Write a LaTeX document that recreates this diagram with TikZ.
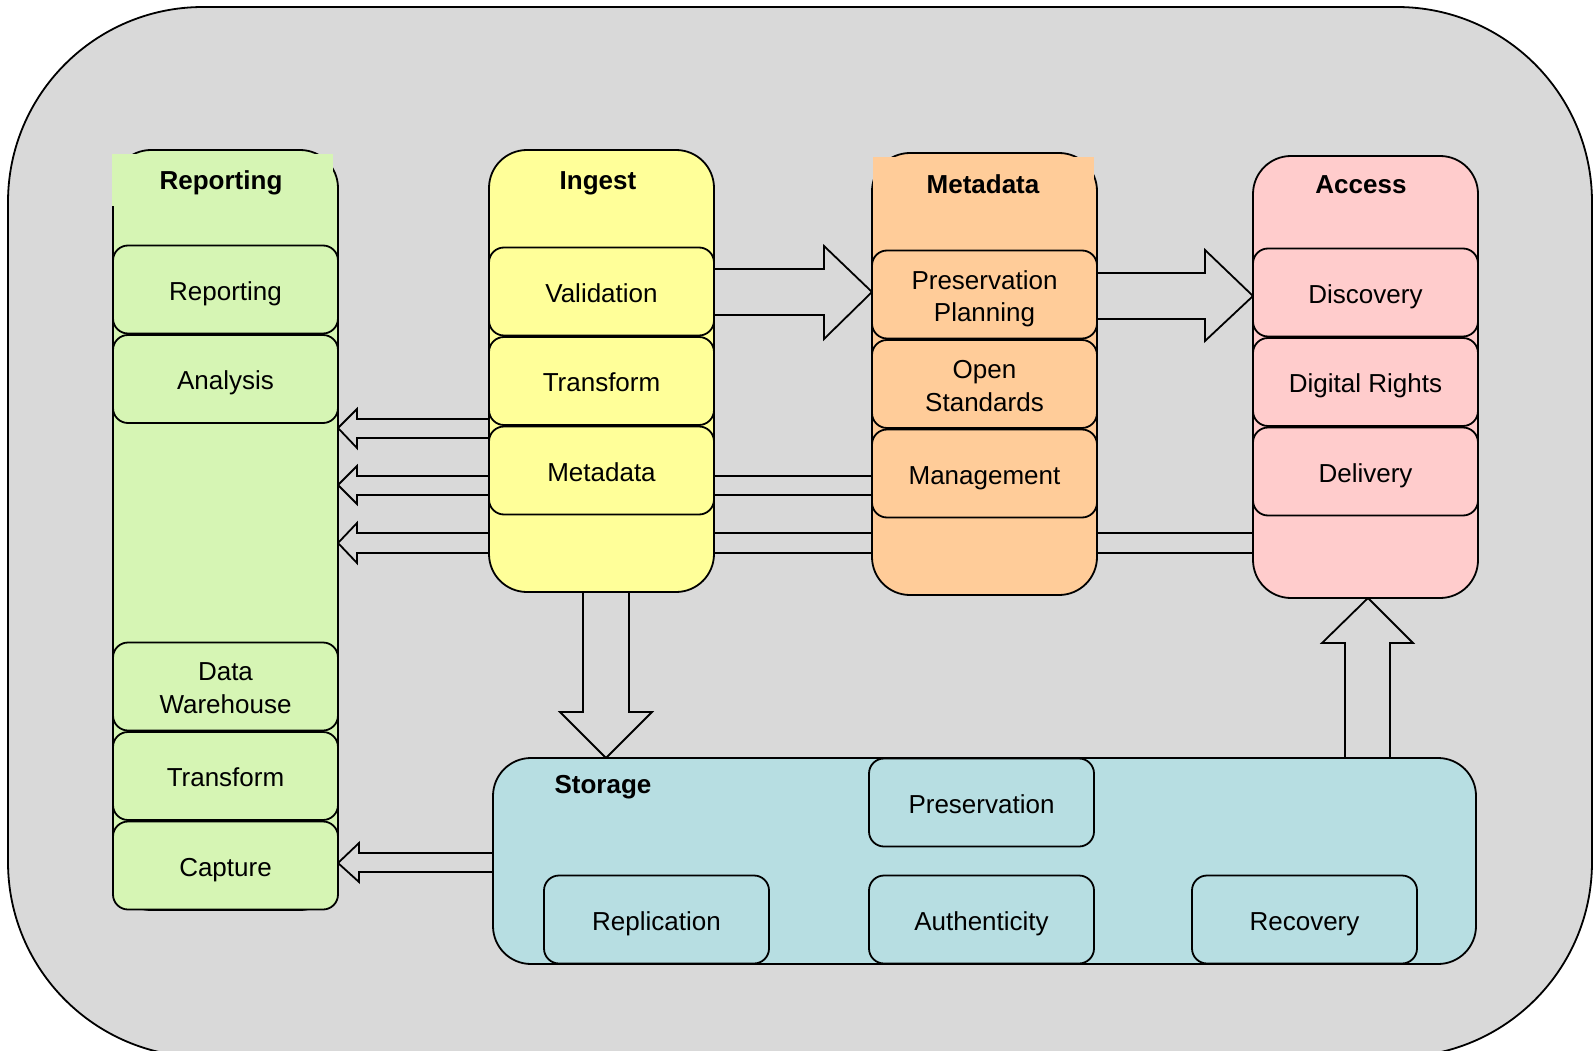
\documentclass[tikz,border=0pt]{standalone}
\usepackage{fontspec}
\setmainfont{Liberation Sans}
\pgfdeclarelayer{bottom}
\pgfdeclarelayer{arrows}
\pgfsetlayers{bottom,arrows,main}
\definecolor{bggray}{RGB}{217,217,217}
\definecolor{repgreen}{RGB}{214,245,180}
\definecolor{ingyellow}{RGB}{255,255,153}
\definecolor{metaorange}{RGB}{255,204,153}
\definecolor{accpink}{RGB}{255,204,204}
\definecolor{storblue}{RGB}{183,222,226}
\begin{document}
\begin{tikzpicture}[x=1pt,y=-1pt,
  every node/.style={font=\fontsize{26}{32.5}\selectfont, inner sep=0pt, outer sep=0pt},
  col/.style={draw, line width=1.8pt, rounded corners=38pt, minimum width=225pt},
  sub/.style={draw, line width=1.8pt, rounded corners=15pt, minimum width=225pt, minimum height=88pt, align=center},
  cc/.style={text height=21.6pt, text depth=0pt},
  hdr/.style={font=\bfseries\fontsize{26}{31.5}\selectfont, text height=18.6pt, text depth=0pt},
  barrow/.style={draw, line width=1.8pt, fill=bggray, line join=miter}
]
\useasboundingbox (0,0) rectangle (1593,1051);

% ---------- Reporting column ----------
\node[col, fill=repgreen, minimum height=760pt] (repcol) at (225.5,530) {};
\fill[repgreen] (112,154) rectangle (333,206);
\node[hdr] (rephdr) at (221,180) {Reporting};
\node[sub, cc, fill=repgreen] (rep1) at (225.5,289.5) {Reporting};
\node[sub, cc, fill=repgreen] (rep2) at (225.5,379) {Analysis};
\node[sub, fill=repgreen] (rep3) at (225.5,686.5) {};
\node[align=center] (rep3t) at (225.5,688) {Data\\Warehouse};
\node[sub, cc, fill=repgreen] (rep4) at (225.5,776) {Transform};
\node[sub, cc, fill=repgreen] (rep5) at (225.5,865.5) {Capture};

% ---------- Ingest column ----------
\node[col, fill=ingyellow, minimum height=442pt] (ingcol) at (601.5,371) {};
\node[hdr] (inghdr) at (598,180) {Ingest};
\node[sub, cc, fill=ingyellow] (ing1) at (601.5,291.5) {Validation};
\node[sub, cc, fill=ingyellow] (ing2) at (601.5,381) {Transform};
\node[sub, cc, fill=ingyellow] (ing3) at (601.5,470.5) {Metadata};

% ---------- Metadata column ----------
\node[col, fill=metaorange, minimum height=442pt] (metcol) at (984.5,374) {};
\fill[metaorange] (873,157) rectangle (1094,208);
\node[hdr] (methdr) at (983,184) {Metadata};
\node[sub, fill=metaorange] (met1) at (984.5,294.5) {};
\node[align=center] (met1t) at (984.5,299) {Preservation\\Planning};
\node[sub, fill=metaorange] (met2) at (984.5,384) {};
\node[align=center] (met2t) at (984.5,386) {Open\\Standards};
\node[sub, cc, fill=metaorange] (met3) at (984.5,473.5) {Management};

% ---------- Access column ----------
\node[col, fill=accpink, minimum height=442pt] (acccol) at (1365.5,377) {};
\node[hdr] (acchdr) at (1361,184) {Access};
\node[sub, cc, fill=accpink] (acc1) at (1365.5,292.5) {Discovery};
\node[sub, cc, fill=accpink] (acc2) at (1365.5,382) {Digital Rights};
\node[sub, cc, fill=accpink] (acc3) at (1365.5,471.5) {Delivery};

% ---------- Storage ----------
\node[col, fill=storblue, minimum width=983pt, minimum height=206pt] (stor) at (984.5,861) {};
\node[hdr] (storhdr) at (603,784) {Storage};
\node[sub, cc, fill=storblue] (st1) at (981.5,802.5) {Preservation};
\node[sub, cc, fill=storblue] (st2) at (656.5,919.5) {Replication};
\node[sub, cc, fill=storblue] (st3) at (981.5,919.5) {Authenticity};
\node[sub, cc, fill=storblue] (st4) at (1304.5,919.5) {Recovery};

% ---------- background frame ----------
\begin{pgfonlayer}{bottom}
\begin{scope}
\clip (0,0) rectangle (1593,1051);
\draw[line width=1.8pt, fill=bggray, rounded corners=195pt] (8,7) rectangle (1592,1057);
\end{scope}
\end{pgfonlayer}

% ---------- block arrows ----------
\begin{pgfonlayer}{arrows}
% Ingest -> Metadata
\draw[barrow] (ingcol.east |- 0,269) -- (824,269) -- (824,246) -- (metcol.west |- 0,292)
  -- (824,339) -- (824,315) -- (ingcol.east |- 0,315);
% Metadata -> Access
\draw[barrow] (metcol.east |- 0,273) -- (1205,273) -- (1205,250) -- (acccol.west |- 0,296)
  -- (1205,341) -- (1205,319) -- (metcol.east |- 0,319);
% Ingest -> Reporting
\draw[barrow] (ingcol.west |- 0,419) -- (357,419) -- (357,409) -- (repcol.east |- 0,428)
  -- (357,448) -- (357,438) -- (ingcol.west |- 0,438);
% Metadata -> Reporting
\draw[barrow] (metcol.west |- 0,476) -- (357,476) -- (357,466) -- (repcol.east |- 0,485)
  -- (357,504) -- (357,495) -- (metcol.west |- 0,495);
% Access -> Reporting
\draw[barrow] (acccol.west |- 0,533) -- (357,533) -- (357,523) -- (repcol.east |- 0,543)
  -- (357,563) -- (357,553) -- (acccol.west |- 0,553);
% Storage -> Capture
\draw[barrow] (stor.west |- 0,853) -- (359,853) -- (359,843) -- (repcol.east |- 0,863)
  -- (359,882) -- (359,872) -- (stor.west |- 0,872);
% Ingest -> Storage
\draw[barrow] (583,0 |- ingcol.south) -- (583,712) -- (560,712) -- (606,0 |- stor.north)
  -- (652,712) -- (629,712) -- (629,0 |- ingcol.south);
% Storage -> Access
\draw[barrow] (1345,0 |- stor.north) -- (1345,643) -- (1322,643) -- (1368,0 |- acccol.south)
  -- (1413,643) -- (1390,643) -- (1390,0 |- stor.north);
\end{pgfonlayer}
\end{tikzpicture}
\end{document}
